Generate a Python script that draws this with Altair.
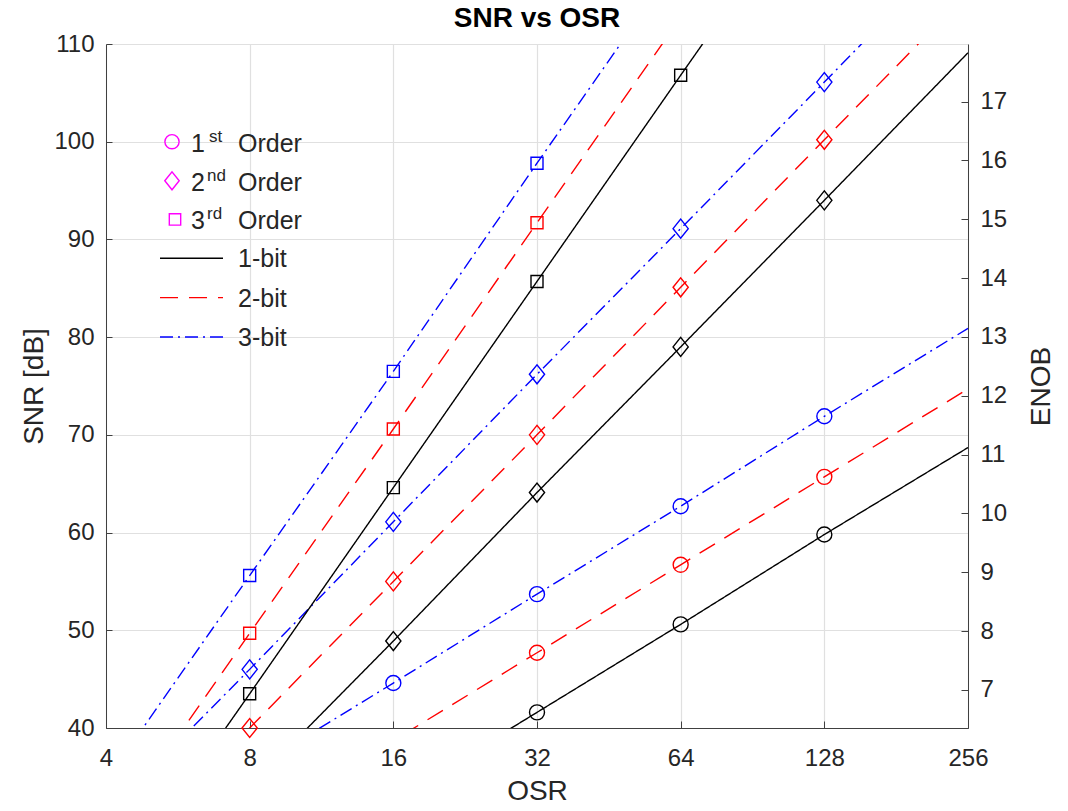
import altair as alt
import pandas as pd

# Oversampling ratios at which each curve is sampled
osr = [4, 8, 16, 32, 64, 128, 256]
osr_ticks = [4, 8, 16, 32, 64, 128, 256]
snr_ticks = [40, 50, 60, 70, 80, 90, 100, 110]
enob_ticks = [7, 8, 9, 10, 11, 12, 13, 14, 15, 16, 17]

orders = ["1st", "2nd", "3rd"]
bits = ["1-bit", "2-bit", "3-bit"]

# SNR [dB] for each modulator order / quantizer resolution
snr_o1_b1 = [14.6, 23.6, 32.6, 41.6, 50.6, 59.8, 68.7]
snr_o1_b2 = [20.7, 29.7, 38.7, 47.7, 56.7, 65.7, 74.7]
snr_o1_b3 = [26.6, 35.6, 44.6, 53.7, 62.7, 71.9, 80.9]
snr_o2_b1 = [19.0, 34.0, 48.9, 64.1, 79.0, 94.0, 109.1]
snr_o2_b2 = [25.0, 40.0, 55.0, 70.0, 85.1, 100.2, 115.2]
snr_o2_b3 = [31.1, 46.0, 61.1, 76.2, 91.1, 106.1, 121.2]
snr_o3_b1 = [22.5, 43.5, 64.6, 85.7, 106.8, 127.8, 148.8]
snr_o3_b2 = [28.6, 49.7, 70.6, 91.7, 112.7, 133.7, 154.7]
snr_o3_b3 = [34.6, 55.6, 76.5, 97.8, 118.8, 139.8, 160.8]

series = {
    ("1st", "1-bit"): snr_o1_b1,
    ("1st", "2-bit"): snr_o1_b2,
    ("1st", "3-bit"): snr_o1_b3,
    ("2nd", "1-bit"): snr_o2_b1,
    ("2nd", "2-bit"): snr_o2_b2,
    ("2nd", "3-bit"): snr_o2_b3,
    ("3rd", "1-bit"): snr_o3_b1,
    ("3rd", "2-bit"): snr_o3_b2,
    ("3rd", "3-bit"): snr_o3_b3,
}

rows = []
for (order, nb), vals in series.items():
    for o, s in zip(osr, vals):
        rows.append({"osr": o, "snr": s, "order": order, "bits": nb})
df = pd.DataFrame(rows)

# markers only at the simulated OSR values that fall inside the view
marks_df = df[(df.osr >= 8) & (df.osr <= 128) & (df.snr >= 39.9) & (df.snr <= 110)]

SNR_MIN, SNR_MAX = 40, 110
# ENOB = (SNR - 1.76) / 6.02
ENOB_MIN = (SNR_MIN - 1.76) / 6.02
ENOB_MAX = (SNR_MAX - 1.76) / 6.02

FONT = "Liberation Sans"
TXT = "#262626"
AX = "#404040"
GRID = "#e0e0e0"

W, H = 862, 684
LEFT, TOP = 106, 44

colors = ["#000000", "#ff0000", "#0000ff"]
dashes = [[1, 0], [18, 11], [13, 5, 2, 5]]
diamond = "M-0.8,0L0,-1L0.8,0L0,1Z"
shapes = ["circle", diamond, "square"]
sym_sizes = [225, 361, 144]

x_enc = alt.X(
    "osr:Q",
    scale=alt.Scale(type="log", base=2, domain=[4, 256], nice=False),
    axis=alt.Axis(
        values=osr_ticks, format="d", title="OSR", grid=True, gridColor=GRID,
        gridWidth=1.2, domainColor=AX, tickColor=AX, tickSize={"expr": "-7"},
        labelPadding=25, labelFontSize=24, labelColor=TXT, labelFont=FONT,
        titleFont=FONT, titleFontSize=28, titleColor=TXT, titleFontWeight="normal",
        titleY=63, titleBaseline="middle", labelFlush=False,
    ),
)
y_enc = alt.Y(
    "snr:Q",
    scale=alt.Scale(domain=[SNR_MIN, SNR_MAX], nice=False),
    axis=alt.Axis(
        values=snr_ticks, title="SNR [dB]", grid=True, gridColor=GRID,
        gridWidth=1.2, domainColor=AX, tickColor=AX, tickSize={"expr": "-6"},
        labelPadding=18, labelFontSize=24, labelColor=TXT, labelFont=FONT,
        titleFont=FONT, titleFontSize=28, titleColor=TXT, titleFontWeight="normal",
        titleX=-72, titleY=H / 2, titleAngle=270, titleBaseline="middle",
        labelFlush=False,
    ),
)

bit_color = alt.Color("bits:N", scale=alt.Scale(domain=bits, range=colors), legend=None)

lines = alt.Chart(df).mark_line(clip=True, strokeWidth=1.4).encode(
    x=x_enc,
    y=y_enc,
    color=bit_color,
    strokeDash=alt.StrokeDash("bits:N", scale=alt.Scale(domain=bits, range=dashes), legend=None),
    detail="order:N",
    order=alt.Order("osr:Q"),
)

# one open-marker layer per modulator order
point_layers = []
for i, order in enumerate(orders):
    point_layers.append(
        alt.Chart(marks_df[marks_df.order == order]).mark_point(
            shape=shapes[i], size=sym_sizes[i], filled=False, strokeWidth=1.4, opacity=1
        ).encode(x=x_enc, y=y_enc, color=bit_color)
    )

# hand-built legend in the upper-left corner (pixel offsets inside the plot area)
legend_layers = []
row_y = [141.7, 180.8, 219.4, 258.3, 297.6, 337.0]
sym_x = [172, 172, 175]
sup_x = [209, 207, 207]
sup_txt = ["st", "nd", "rd"]
num_txt = ["1", "2", "3"]
one = pd.DataFrame({"k": [0]})


def px(v):
    return alt.value(v - LEFT)


def py(v):
    return alt.value(v - TOP)


for i in range(3):
    y = row_y[i]
    legend_layers.append(
        alt.Chart(one).mark_point(
            shape=shapes[i], size=sym_sizes[i] * 0.9, filled=False, color="#ff00ff",
            strokeWidth=1.4, opacity=1,
        ).encode(x=px(sym_x[i]), y=py(y))
    )
    legend_layers.append(
        alt.Chart(one).mark_text(
            align="left", baseline="alphabetic", font=FONT, fontSize=25, color=TXT
        ).encode(x=px(191), y=py(y + 10), text=alt.value(num_txt[i]))
    )
    legend_layers.append(
        alt.Chart(one).mark_text(
            align="left", baseline="alphabetic", font=FONT, fontSize=17, color=TXT
        ).encode(x=px(sup_x[i]), y=py(y), text=alt.value(sup_txt[i]))
    )
    legend_layers.append(
        alt.Chart(one).mark_text(
            align="left", baseline="alphabetic", font=FONT, fontSize=25, color=TXT
        ).encode(x=px(238), y=py(y + 10), text=alt.value("Order"))
    )
for i in range(3):
    y = row_y[3 + i]
    legend_layers.append(
        alt.Chart(one).mark_rule(color=colors[i], strokeWidth=1.4, strokeDash=dashes[i]).encode(
            x=px(160), x2=px(223), y=py(y)
        )
    )
    legend_layers.append(
        alt.Chart(one).mark_text(
            align="left", baseline="alphabetic", font=FONT, fontSize=25, color=TXT
        ).encode(x=px(238), y=py(y + 9), text=alt.value(bits[i]))
    )

main = alt.layer(lines, *point_layers, *legend_layers)

enob_axis = alt.Chart(pd.DataFrame({"enob": enob_ticks})).mark_point(opacity=0).encode(
    y=alt.Y(
        "enob:Q",
        scale=alt.Scale(domain=[ENOB_MIN, ENOB_MAX], nice=False, zero=False),
        axis=alt.Axis(
            orient="right", values=enob_ticks, title="ENOB", grid=False,
            domainColor=AX, tickColor=AX, tickSize={"expr": "-7"},
            labelPadding=19, labelFontSize=24, labelColor=TXT, labelFont=FONT,
            titleFont=FONT, titleFontSize=28, titleColor=TXT, titleFontWeight="normal",
            titleX=73, titleY=H / 2, titleAngle=270, titleBaseline="middle",
            labelFlush=False,
        ),
    )
)

chart = (
    alt.layer(main, enob_axis)
    .resolve_scale(y="independent")
    .properties(
        width=W,
        height=H,
        title=alt.TitleParams(
            "SNR vs OSR", font=FONT, fontSize=28, fontWeight="bold", color="#000000",
            anchor="middle", offset=-1,
        ),
        autosize=alt.AutoSizeParams(type="none"),
        padding={"left": LEFT, "top": TOP, "right": 1068 - LEFT - W, "bottom": 811 - TOP - H},
        background="#ffffff",
    )
    .configure_view(stroke=None)
)

chart.save("out.html", embed_options={"renderer": "svg", "actions": False})
